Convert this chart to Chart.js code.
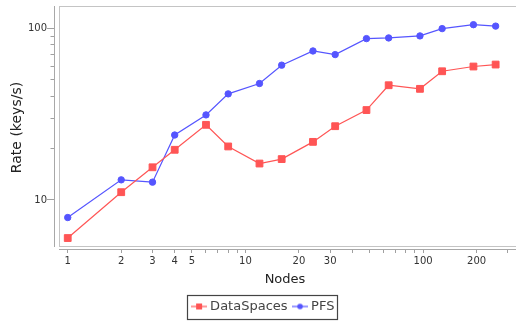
<!DOCTYPE html>
<html>
<head>
<meta charset="utf-8">
<script src="https://cdn.jsdelivr.net/npm/chart.js@4.4.1/dist/chart.umd.min.js"></script>
<style>
  html, body { margin: 0; padding: 0; background: #fff; }
</style>
</head>
<body>
<canvas id="chart" width="516" height="322"></canvas>
<script>
const nodes = [1, 2, 3, 4, 6, 8, 12, 16, 24, 32, 48, 64, 96, 128, 192, 256];

const dataSpacesRate = [6.0, 11.1, 15.5, 19.6, 27.4, 20.5, 16.3, 17.3, 21.8, 26.9, 33.4, 46.6, 44.4, 56.2, 59.9, 61.5];

const pfsRate = [7.9, 13.1, 12.7, 23.9, 31.3, 41.5, 47.7, 61, 73.8, 70.3, 87.1, 87.9, 90.3, 99.6, 105, 103];

const xTickValues = [1, 2, 3, 4, 5, 6, 7, 8, 9, 10, 20, 30, 40, 50, 60, 70, 80, 90, 100, 200, 300];
const xTickLabels = [1, 2, 3, 4, 5, 10, 20, 30, 100, 200];

const yTickValues = [10, 20, 30, 40, 50, 60, 70, 80, 90, 100];
const yTickLabels = [10, 100];

const RED = '#ff5555';
const BLUE = '#5555ff';
const FONT = 'DejaVu Sans';

// small line + marker icon for the legend
const makeIcon = (color, shape) => {
  const c = document.createElement('canvas');
  c.width = 16;
  c.height = 8;
  const g = c.getContext('2d');
  g.strokeStyle = color;
  g.lineWidth = 1.2;
  g.beginPath();
  g.moveTo(0, 4);
  g.lineTo(16, 4);
  g.stroke();
  g.fillStyle = color;
  if (shape === 'rect') {
    g.fillRect(5, 1, 6, 6);
  } else {
    g.beginPath();
    g.arc(8, 4, 2.8, 0, Math.PI * 2);
    g.fill();
  }
  return c;
};

const icons = [makeIcon(RED, 'rect'), makeIcon(BLUE, 'circle')];

// plot frame, offset axis lines and the legend box
const framePlugin = {
  id: 'frame',
  beforeDatasetsDraw(chart) {
    const { ctx, chartArea: a } = chart;
    ctx.save();
    ctx.strokeStyle = '#c4c4c4';
    ctx.lineWidth = 1;
    ctx.strokeRect(a.left + 5.5, a.top + 0.5, a.right - a.left + 10, a.bottom - a.top - 3);
    ctx.strokeStyle = '#a8a8a8';
    ctx.beginPath();
    ctx.moveTo(a.left + 0.5, a.top);
    ctx.lineTo(a.left + 0.5, a.bottom - 2);
    ctx.moveTo(a.left + 5, a.bottom + 0.5);
    ctx.lineTo(a.right, a.bottom + 0.5);
    ctx.stroke();
    ctx.restore();
  },
  afterDraw(chart) {
    const hb = chart.legend.legendHitBoxes;
    if (!hb || !hb.length) return;
    const { ctx } = chart;
    const last = hb[hb.length - 1];
    const left = Math.round(hb[0].left - 7.5) + 0.5;
    const right = Math.round(last.left + last.width + 3) + 0.5;
    const top = Math.round(hb[0].top - 5.5) + 0.5;
    const bottom = Math.round(hb[0].top + 18.5) + 0.5;
    ctx.save();
    ctx.strokeStyle = '#444';
    ctx.lineWidth = 1.2;
    ctx.strokeRect(left, top, right - left, bottom - top);
    ctx.restore();
  },
};

const toPoints = values =>
  values.map((v, i) => ({ x: nodes[i], y: v }));

new Chart(
  document.getElementById('chart'),
  {
    type: 'line',

    data: {
      datasets: [
        {
          label: 'DataSpaces',
          data: toPoints(dataSpacesRate),
          borderColor: RED,
          backgroundColor: RED,
          borderWidth: 1.2,
          pointStyle: 'rect',
          pointRadius: 4.8,
          pointBorderWidth: 1,
          tension: 0,
        },
        {
          label: 'PFS',
          data: toPoints(pfsRate),
          borderColor: BLUE,
          backgroundColor: BLUE,
          borderWidth: 1.2,
          pointStyle: 'circle',
          pointRadius: 3.2,
          pointBorderWidth: 1,
          tension: 0,
        },
      ],
    },

    options: {
      responsive: false,
      animation: false,
      events: [],

      layout: {
        autoPadding: false,
        padding: { left: 13, right: 0, top: 6, bottom: -1 },
      },

      plugins: {
        tooltip: { enabled: false },

        legend: {
          position: 'bottom',
          labels: {
            usePointStyle: true,
            pointStyleWidth: 9,
            padding: 8,
            color: '#444',
            font: { family: FONT, size: 13 },
            generateLabels: chart =>
              Chart.defaults.plugins.legend.labels
                .generateLabels(chart)
                .map((item, i) => ({ ...item, pointStyle: icons[i] })),
          },
        },
      },

      scales: {
        x: {
          type: 'logarithmic',
          min: 0.837,
          max: 333.3,
          afterFit: scale => {
            scale.height = 43;
            scale.paddingLeft = 0;
            scale.paddingRight = 0;
          },
          afterBuildTicks: scale => {
            scale.ticks = xTickValues.map(v => ({ value: v }));
          },
          border: { display: false },
          grid: {
            drawOnChartArea: false,
            drawTicks: true,
            tickLength: 4,
            tickColor: '#a0a0a0',
          },
          ticks: {
            autoSkip: false,
            maxRotation: 0,
            padding: 2,
            color: '#333',
            font: { family: FONT, size: 10 },
            callback: value =>
              xTickLabels.includes(value) ? String(value) : '',
          },
          title: {
            display: true,
            text: 'Nodes',
            color: '#222',
            font: { family: FONT, size: 13 },
            padding: { top: 0, bottom: 4.4 },
          },
        },

        y: {
          type: 'logarithmic',
          min: 5.18,
          max: 134.9,
          afterFit: scale => {
            scale.width = 41;
            scale.paddingTop = 0;
            scale.paddingBottom = 0;
          },
          afterBuildTicks: scale => {
            scale.ticks = yTickValues.map(v => ({ value: v }));
          },
          border: { display: false },
          grid: {
            drawOnChartArea: false,
            drawTicks: true,
            tickLength: 7,
            tickColor: '#a0a0a0',
            tickBorderDash: ctx =>
              ctx.tick && yTickLabels.includes(ctx.tick.value) ? [] : [0, 3.5, 10, 0],
          },
          ticks: {
            autoSkip: false,
            padding: 0,
            color: '#333',
            font: { family: FONT, size: 10 },
            callback: value =>
              yTickLabels.includes(value) ? String(value) : '',
          },
          title: {
            display: true,
            text: 'Rate (keys/s)',
            color: '#222',
            font: { family: FONT, size: 14 },
            padding: { top: -4.4, bottom: 0 },
          },
        },
      },
    },

    plugins: [framePlugin],
  }
);
</script>
</body>
</html>
